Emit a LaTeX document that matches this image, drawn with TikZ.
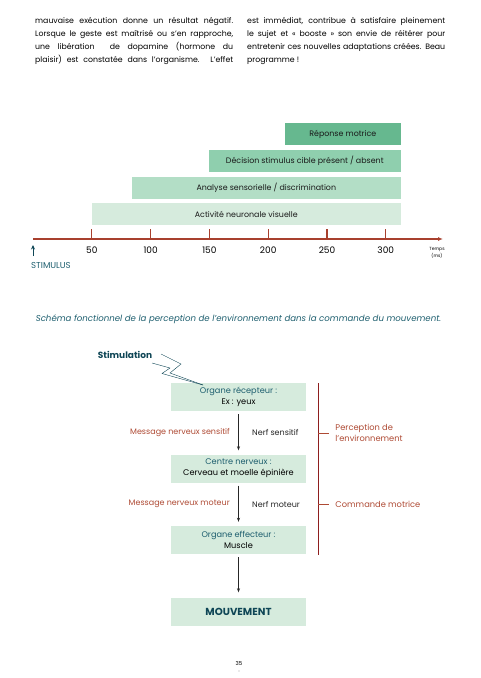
\documentclass[tikz,border=0pt]{standalone}
\usepackage{fontspec}
\setmainfont{Poppins}
\usetikzlibrary{arrows.meta,positioning,calc}

\definecolor{barA}{HTML}{66B88F}
\definecolor{barB}{HTML}{8FCFAE}
\definecolor{barC}{HTML}{B3DEC6}
\definecolor{barD}{HTML}{D6EBDD}
\definecolor{axisred}{HTML}{A8402E}
\definecolor{darkred}{HTML}{8E1E1E}
\definecolor{msgred}{HTML}{AE4A34}
\definecolor{tealtxt}{HTML}{1D5E6E}
\definecolor{tealdark}{HTML}{0F4656}

\begin{document}
\begin{tikzpicture}[x=1pt, y=-1pt, font=\fontsize{7.8}{13}\selectfont,
    node distance=71.5pt, on grid,
    para/.style={anchor=north west, text width=198pt, align=justify, inner sep=0pt},
    bar/.style={anchor=east, minimum height=22pt, inner sep=0pt, text=black!90,
      font=\fontsize{7.9}{9}\selectfont},
    axisline/.style={axisred, line width=1.1pt},
    ticklabel/.style={font=\fontsize{9}{10}\selectfont},
    organe/.style={fill=barD, minimum width=135pt, minimum height=28pt,
      inner sep=0pt, align=center, font=\fontsize{8.2}{11}\selectfont},
    flow/.style={-{Stealth[length=4pt,width=3pt]}, thick, black!85,
      shorten <=3pt, shorten >=4pt},
    msg/.style={text=msgred, font=\fontsize{8}{9}\selectfont},
    nerf/.style={font=\fontsize{8}{9}\selectfont},
    side/.style={text=msgred, align=left, anchor=west, inner sep=0pt,
      font=\fontsize{8.3}{11.5}\selectfont}]
  \useasboundingbox (0,0) rectangle (480,678);

  % texte
  \node[para] (colA) at (35,17.5) {mauvaise exécution donne un résultat négatif.\linebreak
    Lorsque le geste est maîtrisé ou s’en rapproche,\linebreak
    une libération \ de dopamine (hormone du\linebreak
    {\parfillskip=0pt plaisir) est constatée dans l’organisme. L’effet\par}};
  \node[para] (colB) at (247,17.5) {est immédiat, contribue à satisfaire pleinement\linebreak
    le sujet et « booste » son envie de réitérer pour\linebreak
    entretenir ces nouvelles adaptations créées. Beau\linebreak
    programme !};

  % barres
  \node[bar, fill=barA, minimum width=116pt] (reponse) at (401,134) {Réponse motrice};
  \node[bar, fill=barB, minimum width=192pt] (decision) at (401,161) {Décision stimulus cible présent / absent};
  \node[bar, fill=barC, minimum width=269pt] (analyse) at (401,188) {Analyse sensorielle / discrimination};
  \node[bar, fill=barD, minimum width=309pt] (activite) at (401,214) {Activité neuronale visuelle};

  % axe
  \coordinate (t0) at (33,239);
  \coordinate (tend) at (443,239);
  \draw[axisline, -{Latex[length=5pt,width=4pt]}] (t0) -- (tend);
  \foreach \t in {50,100,150,200,250,300} {
    \draw[axisline] ($(t0)+(1.176*\t,0)$) -- ++(0,-10);
    \node[ticklabel] at ($(t0)+(1.176*\t,11)$) {\t};
  }
  \coordinate (stimbas) at (33,256);
  \draw[tealdark, line width=0.8pt, -{Stealth[length=4.5pt,width=4pt]}] (stimbas) -- ++(0,-11);
  \node[anchor=west, inner sep=0pt, text=tealtxt, font=\fontsize{8.6}{9}\selectfont] (stimulus) at (31,265.5) {STIMULUS};
  \node[align=center, font=\fontsize{4.5}{6.5}\selectfont] (temps) at (437,253) {Temps\\(ms)};

  % legende
  \node[text=tealtxt, font=\fontsize{8.6}{10}\selectfont\itshape] (titre) at (238.5,319)
    {Schéma fonctionnel de la perception de l’environnement dans la commande du mouvement.};

  % schema
  \node[text=tealdark, font=\fontsize{9}{10}\selectfont\bfseries] (stimulation) at (125,355) {Stimulation};
  \node[organe] (recepteur) at (238.5,397) {\textcolor{tealtxt}{Organe récepteur :}\\Ex : yeux};
  \node[organe, below=of recepteur] (centre) {\textcolor{tealtxt}{Centre nerveux :}\\Cerveau et moelle épinière};
  \node[organe, below=of centre] (effecteur) {\textcolor{tealtxt}{Organe effecteur :}\\Muscle};
  \node[organe, below=of effecteur, text=tealdark, font=\fontsize{10.2}{11}\selectfont\bfseries] (mouvement) {MOUVEMENT};

  \draw[tealdark, thin] (161,354) -- (181,364) -- (170,373) -- (203,385);
  \draw[tealdark, thin] (152,363) -- (170,368) -- (162,373.5) -- (203,385);

  \draw[flow] (recepteur) -- (centre)
    node[midway, left=5pt, anchor=east, msg] {Message nerveux sensitif}
    node[midway, right=10pt, anchor=west, nerf] {Nerf sensitif};
  \draw[flow] (centre) -- (effecteur)
    node[midway, left=5pt, anchor=east, msg] {Message nerveux moteur}
    node[midway, right=10pt, anchor=west, nerf] {Nerf moteur};
  \draw[flow, shorten >=5pt] (effecteur) -- (mouvement);

  % accolade
  \coordinate (brhaut) at (318,383);
  \coordinate (brbas) at (318,555);
  \draw[darkred, line width=0.9pt] (brhaut) -- (brbas);
  \draw[msgred, line width=0.9pt] (318,433) -- ++(11,0) node[side, right=6pt] (perception) {Perception de\\l’environnement};
  \draw[msgred, line width=0.9pt] (318,504) -- ++(11,0) node[side, right=6pt] (commande) {Commande motrice};

  % page
  \node[font=\fontsize{5.5}{6}\selectfont] (page) at (239,663) {35};
  \fill (239,671) circle (0.4pt);
\end{tikzpicture}
\end{document}
